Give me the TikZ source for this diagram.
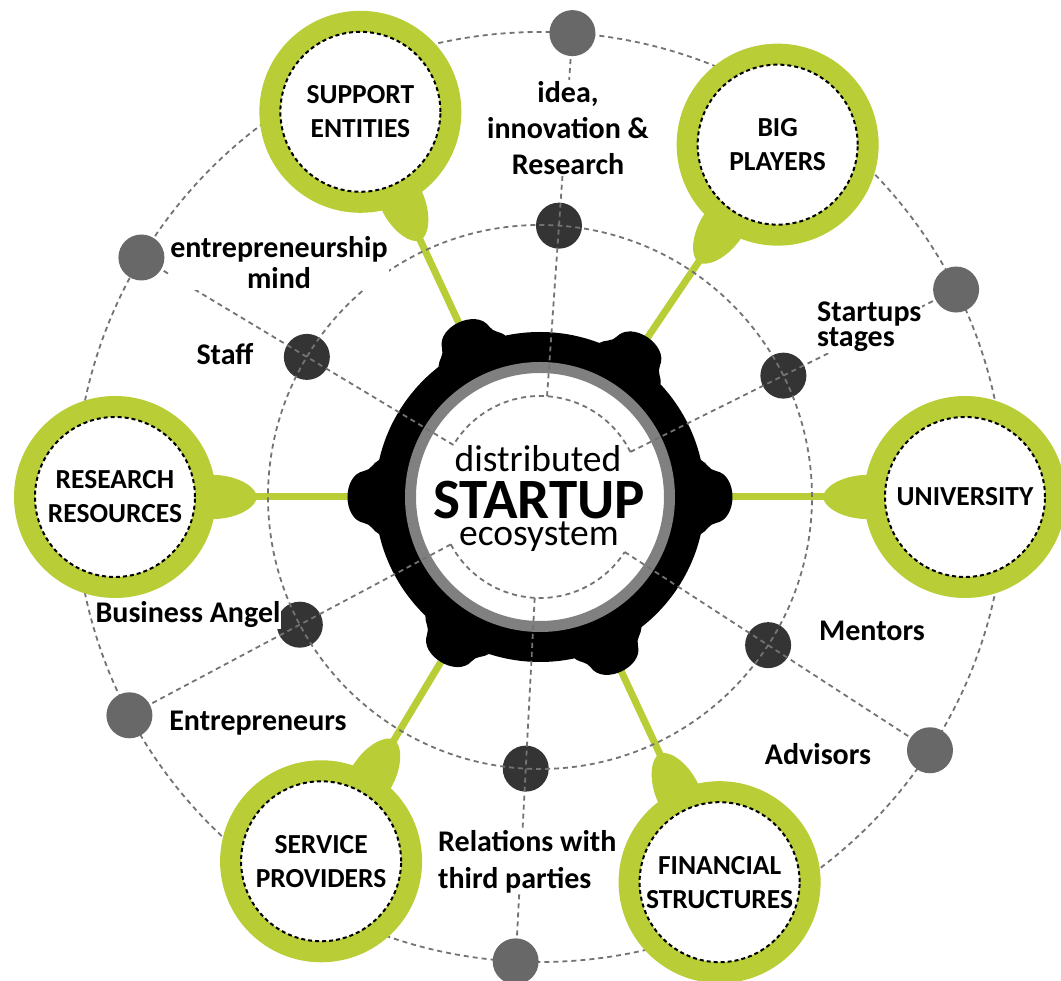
\documentclass[tikz,border=0pt]{standalone}
\usepackage{fontspec}
\setmainfont{Carlito}
\usepackage{tikz}
\usetikzlibrary{calc,positioning,backgrounds}
\definecolor{ecogreen}{RGB}{185,205,54}
\definecolor{ringgray}{RGB}{128,128,128}
\definecolor{dotgray}{RGB}{104,104,104}
\definecolor{dotdark}{RGB}{52,52,52}
\definecolor{dashgray}{RGB}{115,115,115}

\begin{document}
\begin{tikzpicture}[x=1pt, y=1pt,
    hub/.style={circle, draw=ecogreen, line width=21pt, fill=white, minimum size=181pt,
        inner sep=0pt, align=center, font=\fontsize{27.5}{34}\selectfont\bfseries},
    hubdash/.style={black, line width=2pt, dash pattern=on 4pt off 3pt},
    stem/.style={ecogreen, line width=7pt},
    dashline/.style={dashgray, line width=1.8pt, dash pattern=on 5pt off 4pt},
    gdot/.style={circle, fill=dotgray, minimum size=46pt, inner sep=0pt},
    ddot/.style={circle, fill=dotdark, minimum size=46pt, inner sep=0pt},
    tag/.style={fill=white, inner sep=1pt, align=center, font=\fontsize{30}{36}\selectfont\bfseries}]

    \useasboundingbox (-540,-484) rectangle (521,497);

    % the six hubs
    \node[hub] (supp) at (115:425) {SUPPORT\\ENTITIES};
    \node[hub] (big)  at (56:425)  {BIG\\PLAYERS};
    \node[hub] (res)  at (180:425) {RESEARCH\\RESOURCES};
    \node[hub] (univ) at (0:425)   {UNIVERSITY};
    \node[hub] (serv) at (-121:425) {SERVICE\\PROVIDERS};
    \node[hub] (fin)  at (-65:425) {FINANCIAL\\STRUCTURES};
    \foreach \name in {supp,big,res,univ,serv,fin}
        \draw[hubdash] (\name.center) circle (80);

    \begin{pgfonlayer}{background}
        % stems from the gear to the hubs
        \foreach \name/\ang in {supp/115, big/56, res/180, univ/0, serv/-121, fin/-65} {
            \coordinate (\name-b) at (\ang:168);
            \draw[stem] (\name) -- (\name-b);
            \fill[ecogreen, shift={(\name.center)}, rotate=\ang+180]
                (94,-22) .. controls (118,-23) and (137,-13) .. (141,-3.5)
                -- (141,3.5) .. controls (137,13) and (118,23) .. (94,22) -- cycle;
        }

        % gear
        \fill (0,0) circle (165);
        \foreach \name/\ang in {supp/115, big/56, res/180, univ/0, serv/-121, fin/-65}
            \fill[rotate=\ang] (161,-37) .. controls (167,-34) and (169,-27) .. (176,-26)
                .. controls (198,-22) and (198,22) .. (176,26)
                .. controls (169,27) and (167,34) .. (161,37) -- cycle;
        \draw[ringgray, line width=11pt, fill=white] (0,0) circle (129.5);

        % rings and dots
        \draw[dashline] (0,0) circle (465);
        \foreach \i/\ang in {1/149, 2/86, 3/26.5, 4/-33, 5/-93, 6/-152} {
            \node[gdot] (g\i) at (\ang:465) {};
            \node[ddot] (d\i) at (\ang:272) {};
            \coordinate (in\i) at (\ang:101);
        }
        \draw[dashline] (0,0) circle (272);
        \draw[dashline] (26.5:101) arc (26.5:149:101);
        \draw[dashline] (-152:101) arc (-152:-33:101);
        \foreach \i in {1,...,6}
            \draw[dashline] (in\i) -- (g\i);
    \end{pgfonlayer}

    % labels
    \node[tag] (idea) at (28,369) {idea,\\innovation \&\\Research};
    \node[tag, font=\fontsize{30}{31}\selectfont\bfseries] (mind) at (-261,234) {entrepreneurship\\mind};
    \node[tag] (staff) at (-315,142.5) {Staff};
    \node[tag, anchor=west, align=left, font=\fontsize{30}{23}\selectfont\bfseries] (stages) at (276,170) {Startups\\stages};
    \node[tag] (mentors) at (332,-134) {Mentors};
    \node[tag] (advisors) at (278,-257) {Advisors};
    \node[tag] (angel) at (-352,-118) {Business Angel};
    \node[tag] (entre) at (-282,-226) {Entrepreneurs};
    \node[tag, anchor=west, align=left, font=\fontsize{30}{37}\selectfont\bfseries] (third) at (-103,-364.5) {Relations with\\third parties};

    % centre text
    \node[font=\fontsize{37.5}{40}\selectfont] (core-a) at (-2,38) {distributed};
    \node[font=\fontsize{57}{60}\selectfont\bfseries] (core) at (-1,-3) {STARTUP};
    \node[font=\fontsize{37.5}{40}\selectfont] (core-c) at (-1,-40) {ecosystem};

\end{tikzpicture}
\end{document}
